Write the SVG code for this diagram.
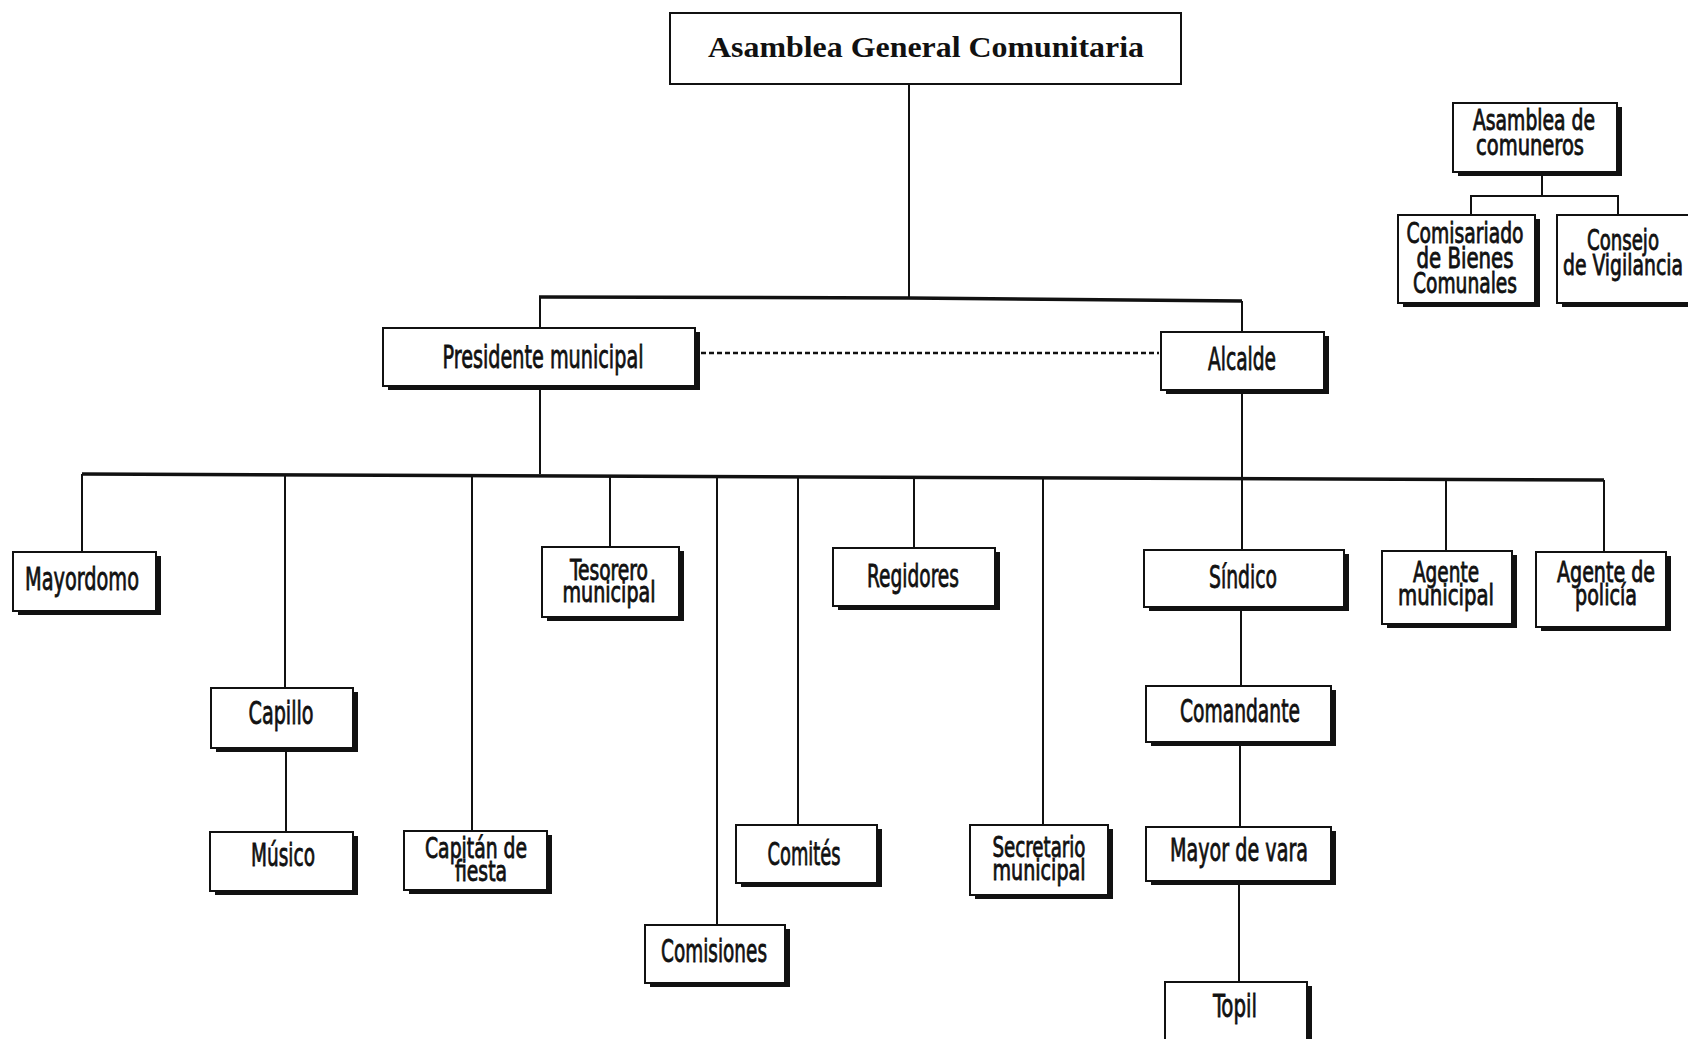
<svg xmlns="http://www.w3.org/2000/svg" width="1688" height="1039" viewBox="0 0 1688 1039">
<style>
.bg{fill:#ffffff}
.sh{fill:#111111}
.bx{fill:#ffffff;stroke:#111111;stroke-width:2}
.top{fill:#ffffff;stroke:#111111;stroke-width:2}
.t{font-family:"Liberation Sans Narrow","DejaVu Sans Condensed","Liberation Sans",sans-serif;font-stretch:condensed;font-size:32px;fill:#111111;stroke:#111111;stroke-width:0.8;text-anchor:middle}
.t2{font-family:"Liberation Sans Narrow","DejaVu Sans Condensed","Liberation Sans",sans-serif;font-stretch:condensed;font-size:28px;fill:#111111;stroke:#111111;stroke-width:0.8;text-anchor:middle}
.tt{font-family:"Liberation Serif","Times New Roman",serif;font-weight:bold;font-size:30px;fill:#111111;text-anchor:middle}
.ln{stroke:#111111;stroke-width:2;fill:none}
.bus{stroke:#111111;stroke-width:3.5;fill:none}
.dash{stroke:#111111;stroke-width:2.5;fill:none;stroke-dasharray:5 3}
</style>
<rect class="bg" x="0" y="0" width="1688" height="1039"/>

<g id="connectors">
<line class="ln" x1="909" y1="84" x2="909" y2="298"/>
<polyline class="bus" points="539,297 909,298 1242,301"/>
<line class="ln" x1="540" y1="297" x2="540" y2="328"/>
<line class="ln" x1="1242" y1="301" x2="1242" y2="332"/>
<line class="dash" x1="701" y1="353" x2="1159" y2="353"/>
<line class="ln" x1="540" y1="386" x2="540" y2="474"/>
<line class="ln" x1="1242" y1="390" x2="1242" y2="550"/>
<polyline class="bus" points="82,474 1604,480"/>
<line class="ln" x1="82" y1="474" x2="82" y2="552"/>
<line class="ln" x1="285" y1="475" x2="285" y2="688"/>
<line class="ln" x1="472" y1="475" x2="472" y2="831"/>
<line class="ln" x1="610" y1="476" x2="610" y2="547"/>
<line class="ln" x1="717" y1="476" x2="717" y2="925"/>
<line class="ln" x1="798" y1="477" x2="798" y2="825"/>
<line class="ln" x1="914" y1="477" x2="914" y2="548"/>
<line class="ln" x1="1043" y1="478" x2="1043" y2="825"/>
<line class="ln" x1="1446" y1="479" x2="1446" y2="551"/>
<line class="ln" x1="1604" y1="480" x2="1604" y2="552"/>
<line class="ln" x1="286" y1="748" x2="286" y2="832"/>
<line class="ln" x1="1241" y1="607" x2="1241" y2="686"/>
<line class="ln" x1="1240" y1="742" x2="1240" y2="827"/>
<line class="ln" x1="1239" y1="881" x2="1239" y2="982"/>
<line class="ln" x1="1542" y1="172" x2="1542" y2="196"/>
<polyline class="ln" points="1471,215 1471,196 1618,196 1618,215"/>
</g>

<g id="asamblea-general">
<rect class="top" x="670" y="13" width="511" height="71"/>
<text class="tt" x="926" y="57" textLength="436" lengthAdjust="spacingAndGlyphs">Asamblea General Comunitaria</text>
</g>

<g id="presidente">
<rect class="sh" x="388" y="332" width="312" height="58"/>
<rect class="bx" x="383" y="328" width="312" height="58"/>
<text class="t" x="543" y="368" textLength="201" lengthAdjust="spacingAndGlyphs">Presidente municipal</text>
</g>

<g id="alcalde">
<rect class="sh" x="1166" y="336" width="163" height="58"/>
<rect class="bx" x="1161" y="332" width="163" height="58"/>
<text class="t" x="1242" y="370" textLength="68" lengthAdjust="spacingAndGlyphs">Alcalde</text>
</g>

<g id="mayordomo">
<rect class="sh" x="18" y="556" width="143" height="59"/>
<rect class="bx" x="13" y="552" width="143" height="59"/>
<text class="t" x="82" y="590" textLength="114" lengthAdjust="spacingAndGlyphs">Mayordomo</text>
</g>

<g id="tesorero">
<rect class="sh" x="547" y="551" width="137" height="70"/>
<rect class="bx" x="542" y="547" width="137" height="70"/>
<text class="t2" x="609" y="580" textLength="78" lengthAdjust="spacingAndGlyphs">Tesorero</text>
<text class="t2" x="609" y="602" textLength="93" lengthAdjust="spacingAndGlyphs">municipal</text>
</g>

<g id="regidores">
<rect class="sh" x="838" y="552" width="162" height="58"/>
<rect class="bx" x="833" y="548" width="162" height="58"/>
<text class="t" x="913" y="587" textLength="92" lengthAdjust="spacingAndGlyphs">Regidores</text>
</g>

<g id="sindico">
<rect class="sh" x="1149" y="554" width="200" height="57"/>
<rect class="bx" x="1144" y="550" width="200" height="57"/>
<text class="t" x="1243" y="588" textLength="68" lengthAdjust="spacingAndGlyphs">Síndico</text>
</g>

<g id="agente-municipal">
<rect class="sh" x="1387" y="555" width="130" height="73"/>
<rect class="bx" x="1382" y="551" width="130" height="73"/>
<text class="t2" x="1446" y="582" textLength="66" lengthAdjust="spacingAndGlyphs">Agente</text>
<text class="t2" x="1446" y="605" textLength="96" lengthAdjust="spacingAndGlyphs">municipal</text>
</g>

<g id="agente-policia">
<rect class="sh" x="1541" y="556" width="130" height="75"/>
<rect class="bx" x="1536" y="552" width="130" height="75"/>
<text class="t2" x="1606" y="582" textLength="98" lengthAdjust="spacingAndGlyphs">Agente de</text>
<text class="t2" x="1606" y="605" textLength="62" lengthAdjust="spacingAndGlyphs">policía</text>
</g>

<g id="capillo">
<rect class="sh" x="216" y="692" width="142" height="60"/>
<rect class="bx" x="211" y="688" width="142" height="60"/>
<text class="t" x="281" y="724" textLength="65" lengthAdjust="spacingAndGlyphs">Capillo</text>
</g>

<g id="musico">
<rect class="sh" x="215" y="836" width="143" height="59"/>
<rect class="bx" x="210" y="832" width="143" height="59"/>
<text class="t" x="283" y="866" textLength="64" lengthAdjust="spacingAndGlyphs">Músico</text>
</g>

<g id="capitan">
<rect class="sh" x="409" y="835" width="143" height="59"/>
<rect class="bx" x="404" y="831" width="143" height="59"/>
<text class="t2" x="476" y="858" textLength="102" lengthAdjust="spacingAndGlyphs">Capitán de</text>
<text class="t2" x="481" y="881" textLength="52" lengthAdjust="spacingAndGlyphs">fiesta</text>
</g>

<g id="comites">
<rect class="sh" x="741" y="829" width="141" height="58"/>
<rect class="bx" x="736" y="825" width="141" height="58"/>
<text class="t" x="804" y="865" textLength="73" lengthAdjust="spacingAndGlyphs">Comités</text>
</g>

<g id="secretario">
<rect class="sh" x="975" y="829" width="138" height="70"/>
<rect class="bx" x="970" y="825" width="138" height="70"/>
<text class="t2" x="1039" y="857" textLength="93" lengthAdjust="spacingAndGlyphs">Secretario</text>
<text class="t2" x="1039" y="880" textLength="93" lengthAdjust="spacingAndGlyphs">municipal</text>
</g>

<g id="comisiones">
<rect class="sh" x="650" y="929" width="140" height="58"/>
<rect class="bx" x="645" y="925" width="140" height="58"/>
<text class="t" x="714" y="962" textLength="106" lengthAdjust="spacingAndGlyphs">Comisiones</text>
</g>

<g id="comandante">
<rect class="sh" x="1151" y="690" width="185" height="56"/>
<rect class="bx" x="1146" y="686" width="185" height="56"/>
<text class="t" x="1240" y="722" textLength="120" lengthAdjust="spacingAndGlyphs">Comandante</text>
</g>

<g id="mayor-de-vara">
<rect class="sh" x="1151" y="831" width="185" height="54"/>
<rect class="bx" x="1146" y="827" width="185" height="54"/>
<text class="t" x="1239" y="861" textLength="138" lengthAdjust="spacingAndGlyphs">Mayor de vara</text>
</g>

<g id="topil">
<rect class="sh" x="1170" y="986" width="142" height="70"/>
<rect class="bx" x="1165" y="982" width="142" height="70"/>
<text class="t" x="1235" y="1017" textLength="44" lengthAdjust="spacingAndGlyphs">Topil</text>
</g>

<g id="asamblea-comuneros">
<rect class="sh" x="1458" y="107" width="164" height="69"/>
<rect class="bx" x="1453" y="103" width="164" height="69"/>
<text class="t2" x="1534" y="130" textLength="122" lengthAdjust="spacingAndGlyphs">Asamblea de</text>
<text class="t2" x="1530" y="155" textLength="108" lengthAdjust="spacingAndGlyphs">comuneros</text>
</g>

<g id="comisariado">
<rect class="sh" x="1403" y="219" width="137" height="88"/>
<rect class="bx" x="1398" y="215" width="137" height="88"/>
<text class="t2" x="1465" y="243" textLength="117" lengthAdjust="spacingAndGlyphs">Comisariado</text>
<text class="t2" x="1465" y="268" textLength="97" lengthAdjust="spacingAndGlyphs">de Bienes</text>
<text class="t2" x="1465" y="293" textLength="104" lengthAdjust="spacingAndGlyphs">Comunales</text>
</g>

<g id="consejo">
<rect class="sh" x="1562" y="219" width="140" height="88"/>
<rect class="bx" x="1557" y="215" width="140" height="88"/>
<text class="t2" x="1623" y="250" textLength="72" lengthAdjust="spacingAndGlyphs">Consejo</text>
<text class="t2" x="1623" y="275" textLength="120" lengthAdjust="spacingAndGlyphs">de Vigilancia</text>
</g>
</svg>
